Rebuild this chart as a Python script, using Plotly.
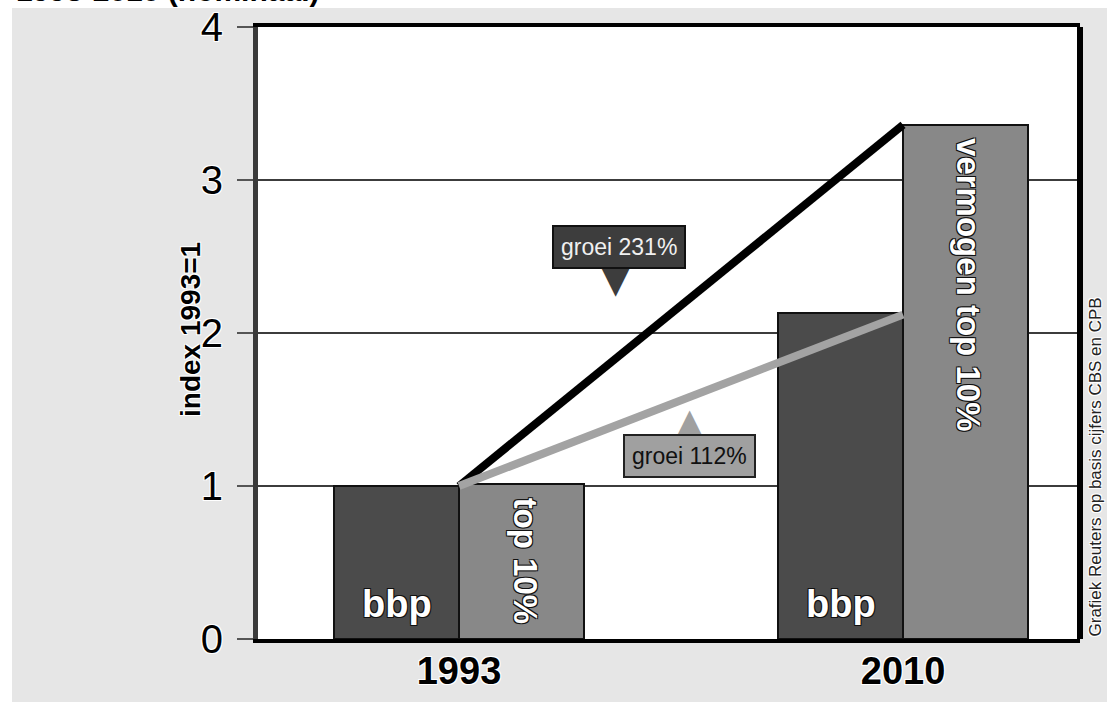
import plotly.graph_objects as go

# ---- data ----
years = ["1993", "2010"]
year_pos = [0, 1]
bbp = [1.0, 2.13]
top10 = [1.01, 3.36]
line_top10 = [1.0, 3.36]
line_bbp = [1.0, 2.12]
bar_labels_bbp = ["bbp", "bbp"]
bar_labels_top10 = ["top 10%", "vermogen top 10%"]
y_ticks = [0, 1, 2, 3, 4]
title_text = "1993-2010 (nominaal)"
y_title = "index 1993=1"
source_text = "Grafiek Reuters op basis cijfers CBS en CPB"
growth_labels = ["groei 231%", "groei 112%"]

FONT = "Liberation Sans, Arial, sans-serif"
HALO_W = "white 1px 1px 0px, white -1px -1px 0px, white 1px -1px 0px, white -1px 1px 0px"
HALO_D = "#111 1px 1px 0px, #111 -1px -1px 0px, #111 1px -1px 0px, #111 -1px 1px 0px"

W, H = 1107, 702
L, R, T, B = 258, 27, 27, 63
PW, PH = W - L - R, H - T - B
BW = 0.2815


def px_x(p):
    return (p - L) / PW


def px_y(p):
    return (H - B - p) / PH


fig = go.Figure()
fig.add_trace(go.Bar(x=year_pos, y=bbp, width=BW, offset=-BW,
                     marker=dict(color="#4b4b4b", line=dict(color="#111", width=2)),
                     showlegend=False, hoverinfo="skip"))
fig.add_trace(go.Bar(x=year_pos, y=top10, width=BW, offset=0,
                     marker=dict(color="#888888", line=dict(color="#111", width=2)),
                     showlegend=False, hoverinfo="skip"))
fig.add_trace(go.Scatter(x=year_pos, y=line_top10, mode="lines",
                         line=dict(color="black", width=8), showlegend=False, hoverinfo="skip"))
fig.add_trace(go.Scatter(x=year_pos, y=line_bbp, mode="lines",
                         line=dict(color="#a3a3a3", width=8), showlegend=False, hoverinfo="skip"))

ann = []
# bar labels
for xp, lab in zip(year_pos, bar_labels_bbp):
    ann.append(dict(x=xp - BW / 2, y=0.08, xref="x", yref="y", text=lab, showarrow=False,
                    xanchor="center", yanchor="bottom",
                    font=dict(family=FONT, size=38, color="white", weight="bold", shadow=HALO_D)))
for xp, val, lab in zip(year_pos, top10, bar_labels_top10):
    ann.append(dict(x=xp + BW / 2 + 0.008, y=val - 0.07, xref="x", yref="y", text=lab, showarrow=False,
                    textangle=90, xanchor="center", yanchor="top",
                    font=dict(family=FONT, size=33, color="white", weight="bold", shadow=HALO_D)))
# growth callouts
ann.append(dict(x=0.354, y=2.35, xref="x", yref="y", text="▼", showarrow=False,
                font=dict(family="DejaVu Sans", size=38, color="#3d3d3d")))
ann.append(dict(x=0.360, y=2.56, xref="x", yref="y", text=growth_labels[0], showarrow=False,
                bgcolor="#3d3d3d", bordercolor="#111", borderwidth=2, borderpad=7,
                font=dict(family=FONT, size=23, color="#f0f0f0")))
ann.append(dict(x=0.520, y=1.42, xref="x", yref="y", text="▲", showarrow=False,
                font=dict(family="DejaVu Sans", size=38, color="#a0a0a0")))
ann.append(dict(x=0.520, y=1.198, xref="x", yref="y", text=growth_labels[1], showarrow=False,
                bgcolor="#a0a0a0", bordercolor="#222", borderwidth=2, borderpad=7,
                font=dict(family=FONT, size=23, color="#111")))
# y title
ann.append(dict(x=px_x(190), y=px_y(330), xref="paper", yref="paper",
                text=y_title, textangle=-90, showarrow=False, xanchor="center", yanchor="middle",
                font=dict(family=FONT, size=28, color="black", weight="bold", shadow=HALO_W)))
# source
ann.append(dict(x=px_x(1095), y=0, xref="paper", yref="paper",
                text=source_text, textangle=-90, showarrow=False, xanchor="center", yanchor="bottom",
                font=dict(family=FONT, size=17, color="#222", shadow=HALO_W)))
# cut-off title
ann.append(dict(x=px_x(14), y=px_y(9), xref="paper", yref="paper",
                text=title_text, showarrow=False, xanchor="left", yanchor="bottom",
                font=dict(family=FONT, size=30, color="black", weight="bold")))

shapes = [
    # white strips outside grey frame
    dict(type="rect", xref="paper", yref="paper", x0=px_x(0), x1=px_x(12),
         y0=px_y(H), y1=px_y(0), fillcolor="white", line=dict(width=0), layer="below"),
    dict(type="rect", xref="paper", yref="paper", x0=px_x(0), x1=px_x(W),
         y0=px_y(8), y1=px_y(0), fillcolor="white", line=dict(width=0), layer="below"),
    # right border
    dict(type="line", xref="paper", yref="paper", x0=1, x1=1, y0=0, y1=1,
         line=dict(color="black", width=6)),
]

fig.update_layout(
    width=W, height=H,
    margin=dict(l=L, r=R, t=T, b=B, pad=0, autoexpand=False),
    paper_bgcolor="#e6e6e6", plot_bgcolor="white",
    barmode="overlay", bargap=0,
    annotations=ann, shapes=shapes,
    xaxis=dict(range=[-0.4527, 1.3986], tickvals=year_pos, ticktext=years, automargin=False,
               showline=True, linecolor="black", linewidth=4, mirror=True,
               showgrid=False, zeroline=False, ticks="", ticklabelstandoff=-5,
               tickfont=dict(family=FONT, size=38, color="black", weight="bold", shadow=HALO_W)),
    yaxis=dict(range=[0, 4], tickvals=y_ticks, ticktext=[str(v) for v in y_ticks], automargin=False,
               showline=True, linecolor="#3a3a3a", linewidth=5, mirror=False,
               showgrid=True, gridcolor="#3c3c3c", gridwidth=2, zeroline=False,
               ticks="outside", ticklen=16, tickcolor="#555", tickwidth=2, ticklabelstandoff=6,
               tickfont=dict(family=FONT, size=40, color="black", shadow=HALO_W)),
)

fig.write_html("out.html", config={"displayModeBar": False},
               post_script="document.body.style.margin='0px';document.body.style.overflow='hidden';")
